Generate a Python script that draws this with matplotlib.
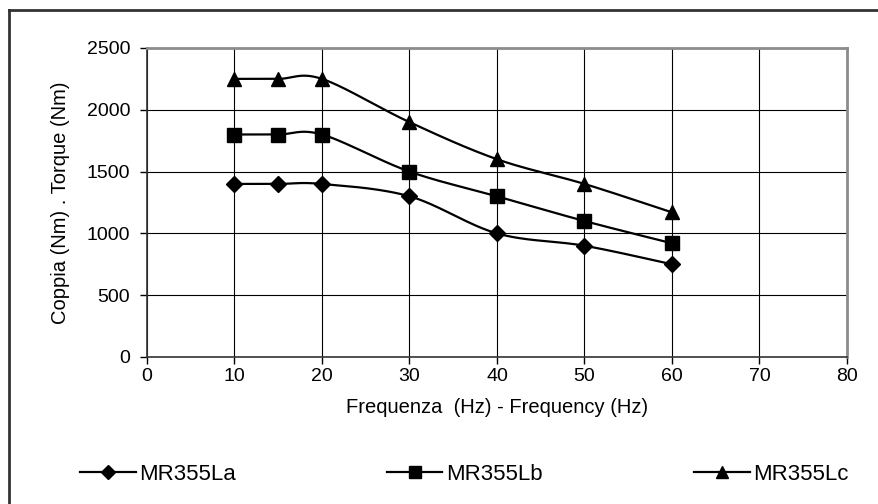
import matplotlib

matplotlib.use("Agg")
import matplotlib.pyplot as plt
import numpy as np
from matplotlib.lines import Line2D

plt.rcParams["font.family"] = ["Liberation Sans", "DejaVu Sans"]

# Data
FREQ_HZ = [10, 15, 20, 30, 40, 50, 60]
TORQUE_LA = [1400, 1400, 1400, 1300, 1000, 900, 750]
TORQUE_LB = [1800, 1800, 1800, 1500, 1300, 1100, 920]
TORQUE_LC = [2250, 2250, 2250, 1900, 1600, 1400, 1170]
SERIES_NAMES = ["MR355La", "MR355Lb", "MR355Lc"]
X_TICKS = [0, 10, 20, 30, 40, 50, 60, 70, 80]
Y_TICKS = [0, 500, 1000, 1500, 2000, 2500]

MARKERS = {"MR355La": ("D", 8), "MR355Lb": ("s", 10.5), "MR355Lc": ("^", 10.5)}


def _smooth(x, y, n=30):
    """Catmull-Rom curve through the points (Excel-like smoothed line)."""
    p = np.column_stack([x, y]).astype(float)
    p = np.vstack([p[0], p, p[-1]])
    out = []
    t = np.linspace(0, 1, n)[:, None]
    for i in range(1, len(p) - 2):
        p0, p1, p2, p3 = p[i - 1], p[i], p[i + 1], p[i + 2]
        seg = 0.5 * (
            2 * p1
            + (-p0 + p2) * t
            + (2 * p0 - 5 * p1 + 4 * p2 - p3) * t**2
            + (-p0 + 3 * p1 - 3 * p2 + p3) * t**3
        )
        out.append(seg if i == 1 else seg[1:])
    s = np.vstack(out)
    return s[:, 0], s[:, 1]


fig = plt.figure(figsize=(8.79, 5.04), dpi=100)
ax = fig.add_axes([0.1672, 0.2917, 0.7964, 0.6131])

handles = []
for name, vals in zip(SERIES_NAMES, [TORQUE_LA, TORQUE_LB, TORQUE_LC]):
    mk, ms = MARKERS[name]
    sx, sy = _smooth(FREQ_HZ, vals)
    ax.plot(sx, sy, color="black", lw=1.6, zorder=3)
    ax.plot(FREQ_HZ, vals, ls="none", marker=mk, ms=ms, color="black", zorder=4)
    handles.append(Line2D([], [], color="black", lw=1.6, marker=mk, ms=ms * 0.85, label=name))

ax.set_xlim(0, 80)
ax.set_ylim(0, 2500)
ax.set_xticks(X_TICKS)
ax.set_yticks(Y_TICKS)
ax.grid(True, color="black", lw=0.8)
ax.set_axisbelow(True)
ax.tick_params(direction="out", length=5, width=1, labelsize=14)
ax.tick_params(axis="y", pad=7)
ax.tick_params(axis="x", pad=3)

for side in ["top", "right"]:
    ax.spines[side].set_color("#8c8c8c")
    ax.spines[side].set_linewidth(2)
for side in ["left", "bottom"]:
    ax.spines[side].set_color("#333333")
    ax.spines[side].set_linewidth(1.2)

ax.set_xlabel("Frequenza  (Hz) - Frequency (Hz)", fontsize=14.5, labelpad=9)
ax.set_ylabel("Coppia (Nm) . Torque (Nm)", fontsize=14.5, labelpad=12)

# Legend spread along the bottom like the Excel original
leg_x = [0.091, 0.44, 0.79]
for h, lx in zip(handles, leg_x):
    fig.legend(
        handles=[h],
        loc="center left",
        bbox_to_anchor=(lx, 0.058),
        frameon=False,
        fontsize=16,
        handlelength=2.5,
        handletextpad=0.15,
        borderaxespad=0,
        borderpad=0,
    )

# Outer chart border (only left and top edges visible)
fig.add_artist(Line2D([0.0097, 0.0097], [0, 0.98], color="#333333", lw=2, transform=fig.transFigure))
fig.add_artist(Line2D([0.0097, 1.0], [0.98, 0.98], color="#333333", lw=2, transform=fig.transFigure))

fig.savefig("out.png")
plt.close(fig)
